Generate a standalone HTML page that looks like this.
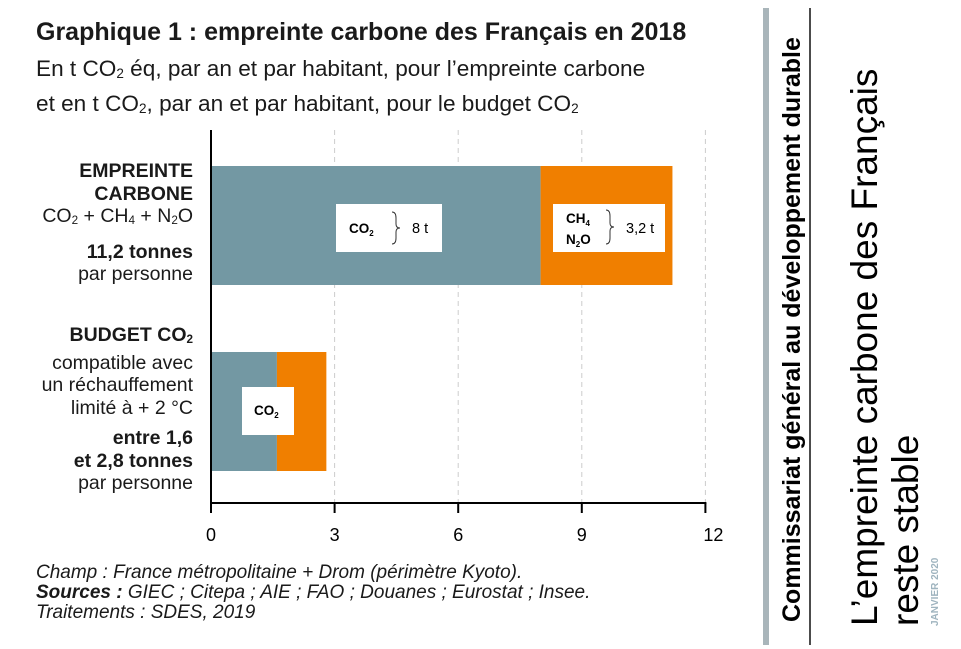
<!DOCTYPE html>
<html><head><meta charset="utf-8"><style>
body{margin:0;width:961px;height:649px;background:#fff;overflow:hidden;position:relative;font-family:"Liberation Sans",sans-serif;color:#1a1a1a}
.a{position:absolute}
sub{font-size:60%;vertical-align:-2px}
</style></head><body>
<div class="a" style="left:36px;top:18px;font-size:25px;font-weight:bold;white-space:nowrap">Graphique 1 : empreinte carbone des Français en 2018</div>
<div class="a" style="left:36px;top:54px;font-size:22.6px;line-height:30px;white-space:nowrap">En t CO<sub>2</sub> éq, par an et par habitant, pour l’empreinte carbone<br>et en t CO<sub>2</sub>, par an et par habitant, pour le budget CO<sub>2</sub></div>
<div class="a" style="right:768px;top:160px;text-align:right;font-size:19.5px;line-height:22.5px;white-space:nowrap"><b>EMPREINTE<br>CARBONE</b><br>CO<sub>2</sub> + CH<sub>4</sub> + N<sub>2</sub>O<div style="margin-top:8px"><b>11,2 tonnes</b><br>par personne</div></div>
<div class="a" style="right:768px;top:324px;text-align:right;font-size:19.5px;line-height:22.5px;white-space:nowrap"><b>BUDGET CO<sub>2</sub></b><br>compatible avec<br>un réchauffement<br>limité à + 2 °C<div style="margin-top:8px"><b>entre 1,6<br>et 2,8 tonnes</b><br>par personne</div></div>
<svg class="a" style="left:0;top:0" width="961" height="649">
<g id="g"></g>
<rect x="763" y="8" width="6" height="637" fill="#a9b5ba"/>
<line x1="810" y1="8" x2="810" y2="645" stroke="#111" stroke-width="1.5"/>
<text transform="translate(800,622) rotate(-90)" font-size="25" font-weight="bold" font-family="Liberation Sans">Commissariat général au développement durable</text>
<text transform="translate(877,626) rotate(-90)" font-size="37" font-family="Liberation Sans">L’empreinte carbone des Français</text>
<text transform="translate(918,626) rotate(-90)" font-size="37" font-family="Liberation Sans">reste stable</text>
<text transform="translate(938,626) rotate(-90)" font-size="10" font-weight="bold" fill="#9fb4bf" font-family="Liberation Sans">JANVIER 2020</text>
</svg>
<div class="a" style="left:36px;top:563px;font-size:19px;font-style:italic;line-height:20px;white-space:nowrap">Champ : France métropolitaine + Drom (périmètre Kyoto).<br><b>Sources :</b> GIEC ; Citepa ; AIE ; FAO ; Douanes ; Eurostat ; Insee.<br>Traitements : SDES, 2019</div>
<script>
const categories=["Empreinte carbone","Budget CO2"];
const co2Values=[8,1.6];
const otherValues=[3.2,1.2];
const ticks=[0,3,6,9,12];
const tickLabels=["0","3","6","9","12"];
const NS="http://www.w3.org/2000/svg",g=document.getElementById("g");
const x=v=>211+v*41.2;
const barTop=[166,352],barH=119;
function mk(t,a,p){const e=document.createElementNS(NS,t);for(const k in a)e.setAttribute(k,a[k]);(p||g).appendChild(e);return e;}
ticks.forEach((t,i)=>{
 if(t>0){const l=mk("line",{x1:x(t),x2:x(t),y1:130,y2:503,stroke:"#ccc","stroke-dasharray":"5,4"});
 
 }
 mk("line",{x1:x(t),x2:x(t),y1:503,y2:513,stroke:"#000","stroke-width":2});
 const tx=mk("text",{x:x(t)+(t==12?8:0),y:541,"text-anchor":"middle","font-size":18,"font-family":"Liberation Sans"});
 tx.textContent=tickLabels[i];
 
 
});
categories.forEach((c,i)=>{
 const r1=mk("rect",{x:x(0),y:barTop[i],width:x(co2Values[i])-x(0),height:barH,fill:"#7398a3"});
 
 
 const r2=mk("rect",{x:x(co2Values[i]),y:barTop[i],width:x(co2Values[i]+otherValues[i])-x(co2Values[i]),height:barH,fill:"#f07f00"});
 
 
});
mk("line",{x1:211,x2:211,y1:130,y2:504,stroke:"#000","stroke-width":2});
mk("line",{x1:210,x2:x(12)+1,y1:503,y2:503,stroke:"#000","stroke-width":2});
const F='font-family="Liberation Sans"';
g.insertAdjacentHTML("beforeend",`
<rect x="336" y="204" width="106" height="48" fill="#fff"/>
<text x="349" y="233" font-size="13.5" font-weight="bold" ${F}>CO<tspan font-size="8" dy="3">2</tspan></text>
<path d="M392 212 q4 0 4 6 v6 q0 4 4 4 q-4 0 -4 4 v6 q0 6 -4 6" fill="none" stroke="#333"/>
<text x="412" y="233" font-size="14.5" ${F}>8 t</text>
<rect x="553" y="204" width="112" height="48" fill="#fff"/>
<text x="566" y="223" font-size="13.5" font-weight="bold" ${F}>CH<tspan font-size="8" dy="3">4</tspan></text>
<text x="566" y="244" font-size="13.5" font-weight="bold" ${F}>N<tspan font-size="8" dy="3">2</tspan><tspan dy="-3">O</tspan></text>
<path d="M606 210 q4 0 4 6 v7 q0 4 4 4 q-4 0 -4 4 v7 q0 6 -4 6" fill="none" stroke="#333"/>
<text x="626" y="233" font-size="14.5" ${F}>3,2 t</text>
<rect x="242" y="387" width="52" height="48" fill="#fff"/>
<text x="254" y="415" font-size="13.5" font-weight="bold" ${F}>CO<tspan font-size="8" dy="3">2</tspan></text>`);
</script>
</body></html>
